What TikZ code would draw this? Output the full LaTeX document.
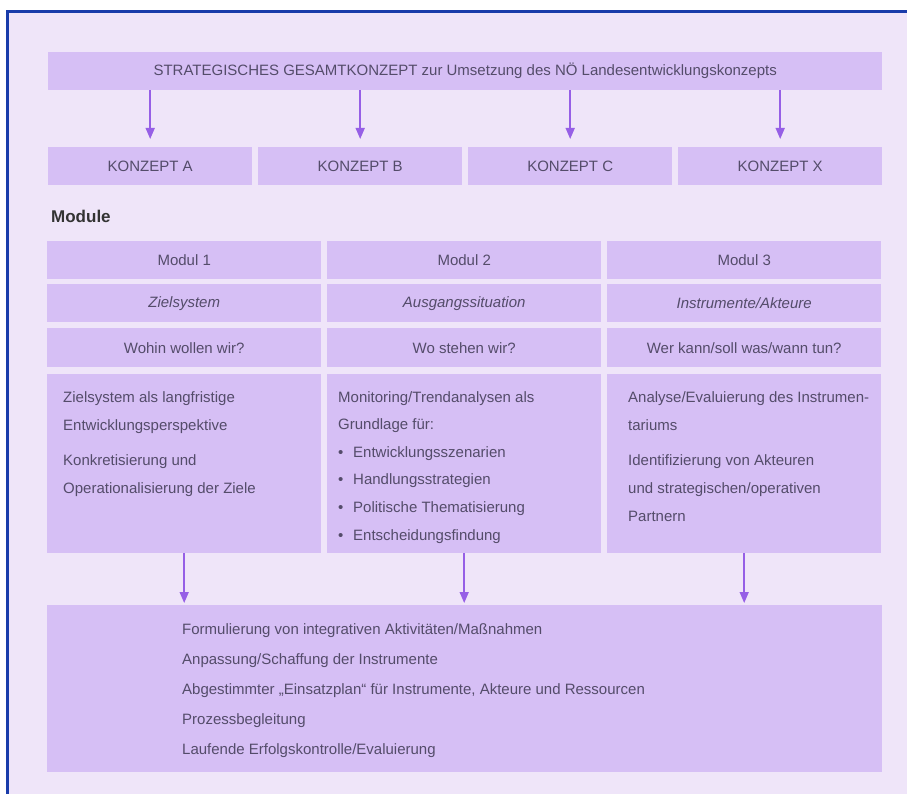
\documentclass[tikz,border=0pt]{standalone}
\usepackage{fontspec}
\setmainfont{Liberation Sans}
\usetikzlibrary{arrows.meta}
\definecolor{bg}{RGB}{239,229,249}
\definecolor{boxc}{RGB}{214,191,245}
\definecolor{txt}{RGB}{84,76,106}
\definecolor{arrc}{RGB}{150,95,230}
\definecolor{framec}{RGB}{25,60,170}
\begin{document}
\begin{tikzpicture}[x=1pt,y=-1pt,
  box/.style={fill=boxc, draw=none, anchor=north west, inner sep=0pt, text=txt,
    font=\fontsize{15}{17}\selectfont},
  arr/.style={draw=arrc, line width=1.5pt, -{Triangle[width=9pt,length=11pt]}},
  body/.style={anchor=north west, inner sep=0pt, align=left, text=txt}]
\useasboundingbox (0,0) rectangle (907,794);
\fill[white] (0,0) rectangle (907,794);
\fill[bg] (7,12) rectangle (907,794);
\draw[framec, line width=3pt] (7,794) -- (7,12) -- (907,12);

% top
\node[box, minimum width=834pt, minimum height=38pt] (top) at (48,52)
  {STRATEGISCHES GESAMTKONZEPT zur Umsetzung des NÖ Landesentwicklungskonzepts};
\node[box, minimum width=204pt, minimum height=38pt] (ka) at (48,147) {KONZEPT A};
\node[box, minimum width=204pt, minimum height=38pt] (kb) at (258,147) {KONZEPT B};
\node[box, minimum width=204pt, minimum height=38pt] (kc) at (468,147) {KONZEPT C};
\node[box, minimum width=204pt, minimum height=38pt] (kx) at (678,147) {KONZEPT X};
\foreach \k in {ka,kb,kc,kx}
  \draw[arr, shorten >=8pt] (\k.north |- top.south) -- (\k.north);

\node[anchor=base west, inner sep=0pt, text=black!80, font=\fontsize{17}{20}\selectfont\bfseries] (mod) at (51,223) {Module};

% module rows
\node[box, minimum width=274pt, minimum height=38pt] (m1) at (47,241) {Modul 1};
\node[box, minimum width=274pt, minimum height=38pt] (m2) at (327,241) {Modul 2};
\node[box, minimum width=274pt, minimum height=38pt] (m3) at (607,241) {Modul 3};
\node[box, minimum width=274pt, minimum height=38pt, font=\fontsize{15}{17}\selectfont\itshape] (z1) at (47,284) {Zielsystem};
\node[box, minimum width=274pt, minimum height=38pt, font=\fontsize{15}{17}\selectfont\itshape] (z2) at (327,284) {Ausgangssituation};
\node[box, minimum width=274pt, minimum height=38pt, font=\fontsize{15}{17}\selectfont\itshape] (z3) at (607,284) {Instrumente/Akteure};
\node[box, minimum width=274pt, minimum height=39pt] (w1) at (47,328) {Wohin wollen wir?};
\node[box, minimum width=274pt, minimum height=39pt] (w2) at (327,328) {Wo stehen wir?};
\node[box, minimum width=274pt, minimum height=39pt] (w3) at (607,328) {Wer kann/soll was/wann tun?};
\node[box, minimum width=274pt, minimum height=179pt] (c1) at (47,374) {};
\node[box, minimum width=274pt, minimum height=179pt] (c2) at (327,374) {};
\node[box, minimum width=274pt, minimum height=179pt] (c3) at (607,374) {};

\node[body, font=\fontsize{15}{28}\selectfont] (t1) at (63,391)
  {Zielsystem als langfristige\\Entwicklungsperspektive\\[7pt]Konkretisierung und\\Operationalisierung der Ziele};
\node[body, font=\fontsize{15}{27.6}\selectfont] (t2) at (338,391)
  {Monitoring/Trendanalysen als\\Grundlage für:\\
   \makebox[15pt][l]{\textbullet}Entwicklungsszenarien\\
   \makebox[15pt][l]{\textbullet}Handlungsstrategien\\
   \makebox[15pt][l]{\textbullet}Politische Thematisierung\\
   \makebox[15pt][l]{\textbullet}Entscheidungsfindung};
\node[body, font=\fontsize{15}{28}\selectfont] (t3) at (628,391)
  {Analyse/Evaluierung des Instrumen-\\tariums\\[7pt]Identifizierung von Akteuren\\und strategischen/operativen\\Partnern};

% bottom
\node[box, minimum width=835pt, minimum height=167pt] (bot) at (47,605) {};
\node[body, font=\fontsize{15}{30}\selectfont] (tb) at (182,623)
  {Formulierung von integrativen Aktivitäten/Maßnahmen\\
   Anpassung/Schaffung der Instrumente\\
   Abgestimmter „Einsatzplan“ für Instrumente, Akteure und Ressourcen\\
   Prozessbegleitung\\
   Laufende Erfolgskontrolle/Evaluierung};

\foreach \c in {c1,c2,c3}
  \draw[arr, shorten >=2pt] (\c.south) -- (\c.south |- bot.north);
\end{tikzpicture}
\end{document}
